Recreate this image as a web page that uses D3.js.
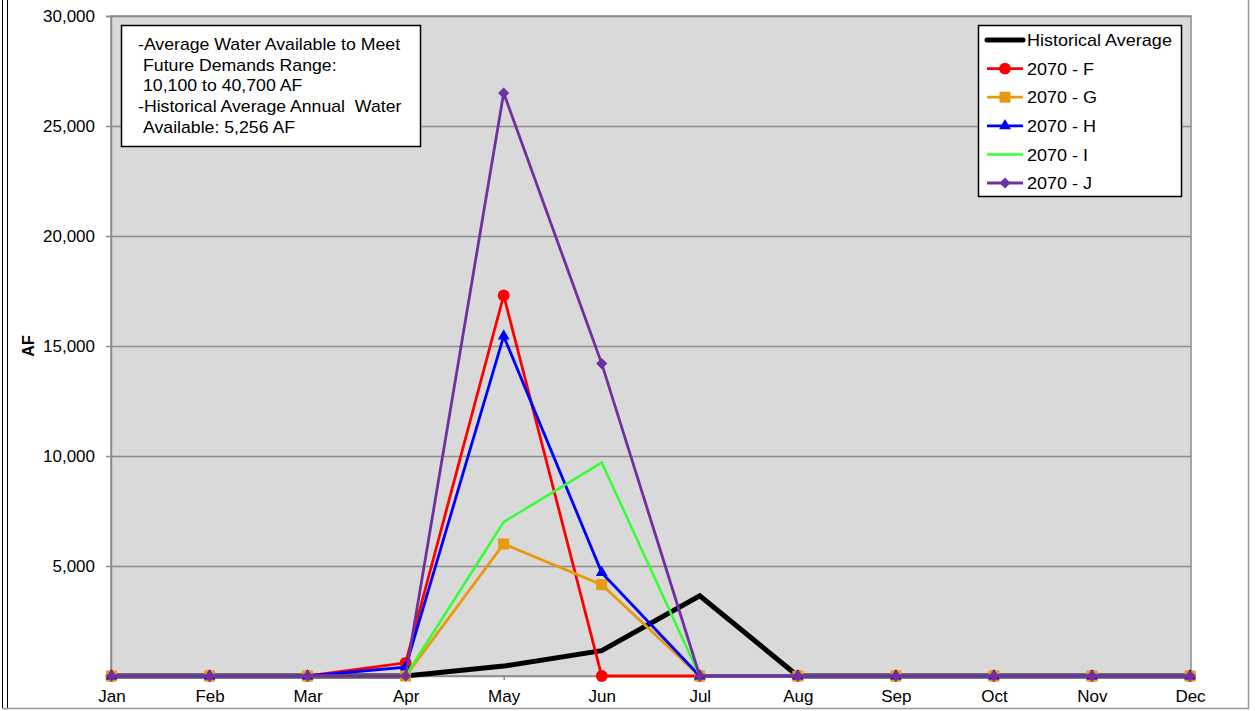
<!DOCTYPE html>
<html><head><meta charset="utf-8">
<script src="https://cdn.jsdelivr.net/npm/d3@7"></script>
<style>
html,body{margin:0;padding:0;background:#fff;}
svg{display:block;font-family:"Liberation Sans",Arial,sans-serif;}
</style></head>
<body><svg id="c" width="1255" height="711"></svg>
<script>
const months = ["Jan","Feb","Mar","Apr","May","Jun","Jul","Aug","Sep","Oct","Nov","Dec"];
const yTicks = [5000,10000,15000,20000,25000,30000];
const historical = [0,0,0,0,450,1150,3650,0,0,0,0,0];
const f2070F = [0,0,0,600,17300,0,0,0,0,0,0,0];
const f2070G = [0,0,0,0,6000,4150,0,0,0,0,0,0];
const f2070H = [0,0,0,400,15450,4700,0,0,0,0,0,0];
const f2070I = [0,0,0,0,7000,9700,0,0,0,0,0,0];
const f2070J = [0,0,0,0,26500,14200,0,0,0,0,0,0];
const seriesNames = ["Historical Average","2070 - F","2070 - G","2070 - H","2070 - I","2070 - J"];
const noteLines = ["-Average Water Available to Meet"," Future Demands Range:"," 10,100 to 40,700 AF","-Historical Average Annual  Water"," Available: 5,256 AF"];

const series = [
  {name:seriesNames[0], values:historical, color:"#000000", width:5, marker:null},
  {name:seriesNames[1], values:f2070F, color:"#FF0000", width:2.8, marker:"circle"},
  {name:seriesNames[2], values:f2070G, color:"#E69B0C", width:2.8, marker:"square"},
  {name:seriesNames[3], values:f2070H, color:"#0000FF", width:2.8, marker:"triangle"},
  {name:seriesNames[4], values:f2070I, color:"#33FF33", width:2.5, marker:null},
  {name:seriesNames[5], values:f2070J, color:"#7030A0", width:2.8, marker:"diamond"}
];

const svg = d3.select("#c");
const L=111, R=1191, T=16, B=676;
const x = d3.scalePoint().domain(months).range([L+0.5,R-1]).padding(0);
const y = d3.scaleLinear().domain([0,30000]).range([B,T]);

function stretch(sel, k){
  sel.each(function(){
    const w = this.getComputedTextLength();
    d3.select(this).attr("textLength", w*k).attr("lengthAdjust","spacingAndGlyphs");
  });
}

// outer frame
svg.append("line").attr("x1",2.5).attr("x2",2.5).attr("y1",0).attr("y2",709).attr("stroke","#000").attr("stroke-width",1);
svg.append("line").attr("x1",7.5).attr("x2",7.5).attr("y1",0).attr("y2",709).attr("stroke","#000").attr("stroke-width",1);
svg.append("line").attr("x1",2).attr("x2",1249).attr("y1",708.5).attr("y2",708.5).attr("stroke","#999").attr("stroke-width",1.5);
svg.append("line").attr("x1",1248.5).attr("x2",1248.5).attr("y1",0).attr("y2",709).attr("stroke","#999").attr("stroke-width",1.5);

// plot area
svg.append("rect").attr("x",L).attr("y",T).attr("width",R-L).attr("height",B-T)
  .attr("fill","#D9D9D9").attr("stroke","#8C8C8C").attr("stroke-width",1.5);

// gridlines
svg.append("g").selectAll("line").data(yTicks).join("line")
  .attr("x1",L).attr("x2",R).attr("y1",d=>Math.round(y(d))+0.5).attr("y2",d=>Math.round(y(d))+0.5)
  .attr("stroke","#8C8C8C").attr("stroke-width",1.5);

// y axis
const yAxis = d3.axisLeft(y).tickValues(yTicks).tickSize(5).tickPadding(11).tickFormat(d3.format(",d"));
const gy = svg.append("g").attr("transform",`translate(${L},0)`).call(yAxis);
gy.select(".domain").attr("stroke","#8C8C8C").attr("stroke-width",1.5);
gy.selectAll(".tick line").attr("stroke","#8C8C8C").attr("stroke-width",1.5);
gy.selectAll("text").attr("font-size",17).attr("fill","#000").attr("font-family","Liberation Sans, Arial, sans-serif");

// x axis
const xAxis = d3.axisBottom(x).tickSize(4).tickPadding(10);
const gx = svg.append("g").attr("transform",`translate(0,${B})`).call(xAxis);
gx.select(".domain").attr("stroke","#8C8C8C").attr("stroke-width",1.5);
gx.selectAll(".tick line").attr("stroke","#8C8C8C").attr("stroke-width",1.5);
gx.selectAll("text").attr("font-size",17).attr("fill","#000").attr("font-family","Liberation Sans, Arial, sans-serif");

// y label
svg.append("text").attr("transform","translate(34,346) rotate(-90)").attr("text-anchor","middle")
  .attr("font-size",16).attr("font-weight","bold").text("AF");

function symbolFor(m){
  if(m==="circle") return d3.symbol().type(d3.symbolCircle).size(110)();
  if(m==="square") return d3.symbol().type(d3.symbolSquare).size(121)();
  if(m==="triangle") return d3.symbol().type(d3.symbolTriangle).size(60)();
  if(m==="diamond") return d3.symbol().type(d3.symbolSquare).size(62)();
  return null;
}

const line = d3.line().x((d,i)=>x(months[i])).y(d=>y(d));
const gs = svg.append("g");
series.forEach(s=>{
  gs.append("path").datum(s.values).attr("d",line).attr("fill","none")
    .attr("stroke",s.color).attr("stroke-width",s.width).attr("stroke-linejoin","miter");
  if(s.marker){
    gs.append("g").selectAll("path").data(s.values).join("path")
      .attr("d",symbolFor(s.marker))
      .attr("transform",(d,i)=>`translate(${x(months[i])},${y(d)})`+(s.marker==="diamond"?" rotate(45)":""))
      .attr("fill",s.color);
  }
});

// note box
svg.append("rect").attr("x",121.5).attr("y",25.5).attr("width",299).attr("height",121)
  .attr("fill","#fff").attr("stroke","#000").attr("stroke-width",1.5);
const nt = svg.append("g").selectAll("text").data(noteLines).join("text")
  .attr("x",(d,i)=>d.startsWith(" ")?143:138).attr("y",(d,i)=>50+i*20.7)
  .attr("font-size",17).attr("fill","#000").attr("xml:space","preserve")
  .text(d=>d.trim().replace("Annual  Water","Annual\u00A0 Water"));
stretch(nt, 1.04);

// legend
svg.append("rect").attr("x",978.5).attr("y",25.5).attr("width",203).attr("height",171)
  .attr("fill","#fff").attr("stroke","#000").attr("stroke-width",1.5);
const lg = svg.append("g");
series.forEach((s,i)=>{
  const cy = 40 + i*28.6;
  lg.append("line").attr("x1",987).attr("x2",1023).attr("y1",cy).attr("y2",cy)
    .attr("stroke",s.color).attr("stroke-width",s.width).attr("stroke-linecap",i===0?"round":"butt");
  if(s.marker){
    lg.append("path").attr("d",symbolFor(s.marker))
      .attr("transform",`translate(1005,${cy})`+(s.marker==="diamond"?" rotate(45)":""))
      .attr("fill",s.color);
  }
  lg.append("text").attr("x",1027).attr("y",cy).attr("dy","0.36em").attr("font-size",17).attr("fill","#000").text(s.name);
});
stretch(lg.selectAll("text"), 1.06);
</script></body></html>
